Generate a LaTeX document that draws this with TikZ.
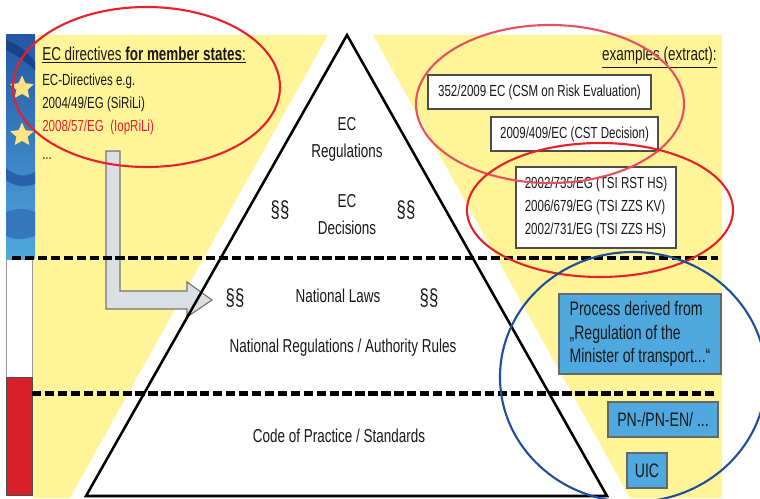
\documentclass[tikz,border=0pt]{standalone}
\usepackage{fontspec}
\setmainfont[FakeStretch=0.72]{Liberation Sans}
\usetikzlibrary{shapes.geometric}

\definecolor{bgyellow}{HTML}{FFF598}
\definecolor{boxblue}{HTML}{4FA8DE}
\definecolor{arrowgray}{HTML}{D9DFE3}
\definecolor{flagred}{HTML}{D7202A}
\definecolor{ringblue}{HTML}{1F4E9E}
\definecolor{ringpink}{HTML}{E9505F}
\definecolor{ringred}{HTML}{E8202C}

\tikzset{
  label/.style={font=\fontsize{13.3}{14}\selectfont, text=black!90, inner sep=0pt},
  small/.style={font=\fontsize{11.4}{14}\selectfont},
  para/.style={font=\fontsize{16.5}{14}\selectfont},
  whitebox/.style={label, small, draw=black!70, fill=white, thick, align=left},
  bluebox/.style={label, font=\fontsize{13.9}{14}\selectfont, draw=black!60, fill=boxblue, thick, align=left},
  level/.style={line width=3pt, dash pattern=on 6.6pt off 2.6pt},
  ring/.style={line width=1.5pt},
  eustar/.style={star, star points=5, star point ratio=2.1, fill=bgyellow!85!orange, inner sep=0pt, minimum size=0.62cm}
}

\begin{document}
\begin{tikzpicture}[x=0.025cm,y=-0.025cm]
\clip (0,0) rectangle (760,498);
\fill[white] (0,0) rectangle (760,498);

% yellow fields
\fill[bgyellow] (33,35) -- (328,35) -- (70,498) -- (33,498) -- cycle;
\fill[bgyellow] (373,35) -- (722,35) -- (722,498) -- (630,498) -- cycle;

% flag and bars
\shade[top color=ringblue!90!boxblue, bottom color=boxblue] (6,35) rectangle (35,258);
\fill[ringblue!85!black] (6,40) .. controls (18,44) and (28,52) .. (35,62) -- (35,70) .. controls (24,60) and (15,54) .. (6,50) -- cycle;
\fill[ringblue!80!boxblue] (6,168) .. controls (15,176) and (26,178) .. (35,172) -- (35,184) .. controls (24,188) and (14,186) .. (6,180) -- cycle;
\fill[ringblue!55!boxblue] (6,212) .. controls (15,208) and (26,208) .. (35,212) -- (35,236) .. controls (24,240) and (14,240) .. (6,236) -- cycle;
\node[eustar] (star1) at (22,88) {};
\node[eustar] (star2) at (22,135) {};
\draw[black!40, fill=white] (6,259) rectangle (32,377);
\draw[black!70, fill=flagred] (6,377) rectangle (32,495);

% arrow
\draw[black!55, fill=arrowgray, thick] (106,151) -- (120,151) -- (120,291) -- (187,291) -- (187,282) -- (212,300) -- (187,317) -- (187,309) -- (106,309) -- cycle;

% pyramid
\draw[line width=1.8pt] (347,35) -- (86,496) -- (607,496) -- cycle;

% levels
\draw[level] (12,258) -- (718,258);
\draw[level] (32,393.5) -- (717,393.5);

% left text
\node[label, anchor=base west] (dirhead) at (42,60.5) {\underline{EC directives \textbf{for member states}:}};
\node[label, small, anchor=base west] (dirtext) at (42,85.5) {EC-Directives e.g.};
\node[label, small, anchor=base west] (siril) at (42,108.5) {2004/49/EG (SiRiLi)};
\node[label, small, anchor=base west, text=ringred] (ioprili) at (42,131.5) {2008/57/EG\ \ (IopRiLi)};
\node[label, small, anchor=base west] (dots) at (42,160) {...};
\node[label, anchor=base east] (exhead) at (717,61) {\underline{examples (extract):}};

% pyramid text
\node[label, align=center] (regs) at (347,139) {EC\\[5.2pt]Regulations};
\node[label, align=center] (decs) at (347,215) {EC\\[5.2pt]Decisions};
\node[label, para] (paraa) at (280,210) {§§};
\node[label, para] (parab) at (406,210) {§§};
\node[label, para] (parac) at (235,298) {§§};
\node[label, para] (parad) at (429,298) {§§};
\node[label] (laws) at (338,296) {National Laws};
\node[label] (rules) at (343,348) {National Regulations / Authority Rules};
\node[label] (code) at (339,436) {Code of Practice / Standards};

% boxes
\node[whitebox, minimum width=223*0.025cm, minimum height=34*0.025cm, align=center] (csm) at (539.5,92) {352/2009 EC (CSM on Risk Evaluation)};
\node[whitebox, minimum width=167*0.025cm, minimum height=34*0.025cm, align=center] (cst) at (574.5,134) {2009/409/EC (CST Decision)};
\node[whitebox, minimum width=160*0.025cm, minimum height=81*0.025cm] (tsi) at (596,207.5) {2002/735/EG (TSI RST HS)\\[2.3pt]2006/679/EG (TSI ZZS KV)\\[2.3pt]2002/731/EG (TSI ZZS HS)};
\node[bluebox, minimum width=162*0.025cm, minimum height=80*0.025cm] (process) at (640,334) {Process derived from\\[2.7pt]„Regulation of the\\[2.7pt]Minister of transport...“};
\node[bluebox, minimum width=110*0.025cm, minimum height=35*0.025cm, align=center] (pn) at (663,419.5) {PN-/PN-EN/ ...};
\node[bluebox, minimum width=40*0.025cm, minimum height=35*0.025cm, align=center] (uic) at (647,470.5) {UIC};

% rings
\draw[ring, ringred] (146.5,87) ellipse (133.5 and 80);
\draw[ring, ringpink] (550,104) ellipse (134 and 79);
\draw[ring, ringred] (600,210) ellipse (133 and 67);
\draw[ring, ringblue] (633,377) ellipse (133 and 125);
\end{tikzpicture}
\end{document}
